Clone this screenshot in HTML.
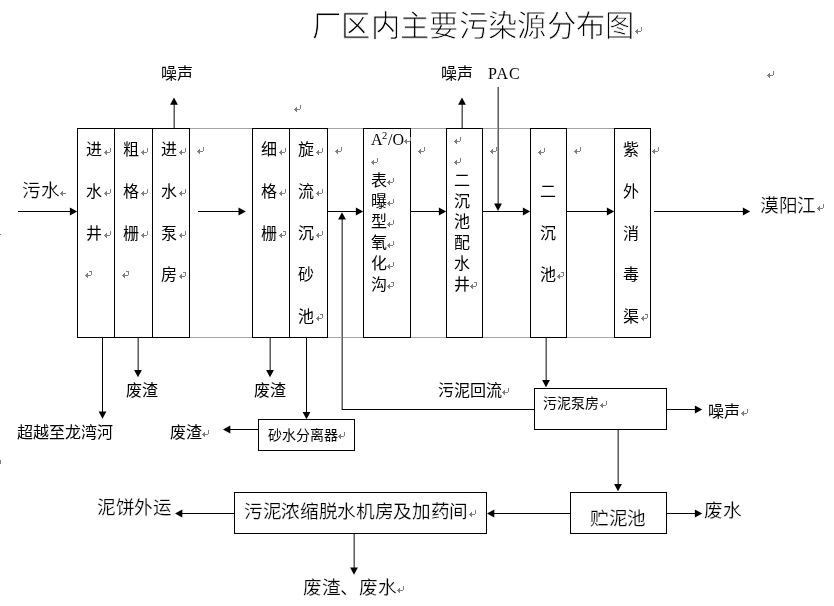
<!DOCTYPE html>
<html lang="zh-CN"><head><meta charset="utf-8"><title>厂区内主要污染源分布图</title>
<style>
html,body{margin:0;padding:0;background:#fff;}
body{width:834px;height:606px;position:relative;overflow:hidden;font-family:"Liberation Serif",serif;color:#000;}
svg.bg{position:absolute;left:0;top:0;}
.t{position:absolute;white-space:nowrap;font-weight:normal;will-change:transform;}
.t span{display:inline-block;width:1em;text-align:center;}
.s{font-family:"Liberation Serif",serif;}
</style></head><body>
<svg class="bg" width="834" height="606" viewBox="0 0 834 606" shape-rendering="crispEdges">
<defs>
<g id="pm" fill="#808080"><rect x="6" y="0" width="1" height="4"/><rect x="0" y="4" width="6" height="1"/><rect x="1" y="3" width="1" height="3"/><rect x="2" y="2" width="1" height="5"/></g>
<g id="pm2" fill="#808080"><rect x="0" y="4" width="6" height="1"/><rect x="1" y="3" width="1" height="3"/><rect x="2" y="2" width="1" height="5"/></g>
</defs>
<rect x="190" y="128" width="424" height="1" fill="#a4a4a4"/>
<rect x="190" y="337" width="424" height="1" fill="#a4a4a4"/>
<rect x="173" y="104" width="1" height="24" fill="#a8a8a8"/>
<rect x="174" y="104" width="1" height="24" fill="#5e5e5e"/>
<rect x="461" y="104" width="1" height="24" fill="#a8a8a8"/>
<rect x="462" y="104" width="1" height="24" fill="#5e5e5e"/>
<rect x="497" y="87" width="1" height="118" fill="#a8a8a8"/>
<rect x="498" y="87" width="1" height="118" fill="#5e5e5e"/>
<rect x="137" y="338" width="1" height="33" fill="#a8a8a8"/>
<rect x="138" y="338" width="1" height="33" fill="#5e5e5e"/>
<rect x="269" y="338" width="1" height="33" fill="#a8a8a8"/>
<rect x="270" y="338" width="1" height="33" fill="#5e5e5e"/>
<rect x="341" y="219" width="1" height="191" fill="#a8a8a8"/>
<rect x="342" y="219" width="1" height="191" fill="#5e5e5e"/>
<rect x="545" y="338" width="1" height="43" fill="#a8a8a8"/>
<rect x="546" y="338" width="1" height="43" fill="#5e5e5e"/>
<rect x="617" y="430" width="1" height="55" fill="#a8a8a8"/>
<rect x="618" y="430" width="1" height="55" fill="#5e5e5e"/>
<rect x="353" y="534" width="1" height="35" fill="#a8a8a8"/>
<rect x="354" y="534" width="1" height="35" fill="#5e5e5e"/>
<rect x="77.5" y="128.5" width="112" height="209" fill="#fff" stroke="#000" stroke-width="1"/>
<rect x="252.5" y="128.5" width="75" height="209" fill="#fff" stroke="#000" stroke-width="1"/>
<rect x="363.5" y="128.5" width="47" height="209" fill="#fff" stroke="#000" stroke-width="1"/>
<rect x="446.5" y="128.5" width="36" height="209" fill="#fff" stroke="#000" stroke-width="1"/>
<rect x="530.5" y="128.5" width="36" height="209" fill="#fff" stroke="#000" stroke-width="1"/>
<rect x="614.5" y="128.5" width="36" height="209" fill="#fff" stroke="#000" stroke-width="1"/>
<rect x="258.5" y="419.5" width="96" height="31" fill="#fff" stroke="#000" stroke-width="1"/>
<rect x="534.5" y="388.5" width="132" height="41" fill="#fff" stroke="#000" stroke-width="1"/>
<rect x="570.5" y="492.5" width="96" height="41" fill="#fff" stroke="#000" stroke-width="1"/>
<rect x="234.5" y="492.5" width="252" height="41" fill="#fff" stroke="#000" stroke-width="1"/>
<rect x="114" y="128" width="1" height="210" fill="#000"/>
<rect x="152" y="128" width="1" height="210" fill="#000"/>
<rect x="289" y="128" width="1" height="210" fill="#000"/>
<rect x="18" y="211" width="54" height="1" fill="#000"/>
<rect x="198" y="211" width="43" height="1" fill="#000"/>
<rect x="328" y="211" width="30" height="1" fill="#000"/>
<rect x="411" y="211" width="30" height="1" fill="#000"/>
<rect x="483" y="211" width="42" height="1" fill="#000"/>
<rect x="567" y="211" width="42" height="1" fill="#000"/>
<rect x="654" y="211" width="91" height="1" fill="#000"/>
<rect x="102" y="338" width="1" height="74" fill="#000"/>
<rect x="306" y="338" width="1" height="75" fill="#000"/>
<rect x="229" y="429" width="29" height="1" fill="#000"/>
<rect x="342" y="409" width="192" height="1" fill="#000"/>
<rect x="667" y="409" width="30" height="1" fill="#000"/>
<rect x="667" y="513" width="30" height="1" fill="#000"/>
<rect x="493" y="513" width="77" height="1" fill="#000"/>
<rect x="181" y="513" width="53" height="1" fill="#000"/>
<polygon points="77.20,211.50 69.90,207.60 69.90,215.40" fill="#000" shape-rendering="geometricPrecision"/>
<polygon points="245.80,211.50 238.50,207.60 238.50,215.40" fill="#000" shape-rendering="geometricPrecision"/>
<polygon points="363.20,211.50 355.90,207.60 355.90,215.40" fill="#000" shape-rendering="geometricPrecision"/>
<polygon points="446.20,211.50 438.90,207.60 438.90,215.40" fill="#000" shape-rendering="geometricPrecision"/>
<polygon points="530.20,211.50 522.90,207.60 522.90,215.40" fill="#000" shape-rendering="geometricPrecision"/>
<polygon points="614.20,211.50 606.90,207.60 606.90,215.40" fill="#000" shape-rendering="geometricPrecision"/>
<polygon points="750.20,211.50 742.90,207.60 742.90,215.40" fill="#000" shape-rendering="geometricPrecision"/>
<polygon points="174.00,97.50 170.10,104.80 177.90,104.80" fill="#000" shape-rendering="geometricPrecision"/>
<polygon points="462.00,97.50 458.10,104.80 465.90,104.80" fill="#000" shape-rendering="geometricPrecision"/>
<polygon points="498.00,210.90 494.10,203.60 501.90,203.60" fill="#000" shape-rendering="geometricPrecision"/>
<polygon points="102.50,418.80 98.60,411.50 106.40,411.50" fill="#000" shape-rendering="geometricPrecision"/>
<polygon points="138.00,377.30 134.10,370.00 141.90,370.00" fill="#000" shape-rendering="geometricPrecision"/>
<polygon points="270.00,377.30 266.10,370.00 273.90,370.00" fill="#000" shape-rendering="geometricPrecision"/>
<polygon points="306.50,419.20 302.60,411.90 310.40,411.90" fill="#000" shape-rendering="geometricPrecision"/>
<polygon points="223.00,429.50 230.30,425.60 230.30,433.40" fill="#000" shape-rendering="geometricPrecision"/>
<polygon points="342.00,212.30 338.10,219.60 345.90,219.60" fill="#000" shape-rendering="geometricPrecision"/>
<polygon points="546.00,387.30 542.10,380.00 549.90,380.00" fill="#000" shape-rendering="geometricPrecision"/>
<polygon points="702.20,409.50 694.90,405.60 694.90,413.40" fill="#000" shape-rendering="geometricPrecision"/>
<polygon points="618.00,491.30 614.10,484.00 621.90,484.00" fill="#000" shape-rendering="geometricPrecision"/>
<polygon points="702.20,513.50 694.90,509.60 694.90,517.40" fill="#000" shape-rendering="geometricPrecision"/>
<polygon points="487.00,513.50 494.30,509.60 494.30,517.40" fill="#000" shape-rendering="geometricPrecision"/>
<polygon points="175.00,513.50 182.30,509.60 182.30,517.40" fill="#000" shape-rendering="geometricPrecision"/>
<polygon points="354.00,574.80 350.10,567.50 357.90,567.50" fill="#000" shape-rendering="geometricPrecision"/>
<use href="#pm" x="635" y="27"/>
<use href="#pm" x="767" y="71"/>
<use href="#pm" x="294" y="105"/>
<use href="#pm" x="104" y="148"/>
<use href="#pm" x="104" y="189"/>
<use href="#pm" x="104" y="231"/>
<use href="#pm" x="85" y="271"/>
<rect x="89" y="271" width="2" height="1" fill="#808080"/>
<use href="#pm" x="141" y="148"/>
<use href="#pm" x="141" y="189"/>
<use href="#pm" x="141" y="231"/>
<use href="#pm" x="122" y="271"/>
<rect x="126" y="271" width="2" height="1" fill="#808080"/>
<use href="#pm" x="179" y="148"/>
<use href="#pm" x="179" y="189"/>
<use href="#pm" x="179" y="231"/>
<use href="#pm" x="179" y="272"/>
<rect x="183" y="272" width="2" height="1" fill="#808080"/>
<use href="#pm" x="197" y="147"/>
<use href="#pm" x="279" y="148"/>
<use href="#pm" x="279" y="189"/>
<use href="#pm" x="279" y="231"/>
<rect x="283" y="231" width="2" height="1" fill="#808080"/>
<use href="#pm" x="316" y="148"/>
<use href="#pm" x="316" y="189"/>
<use href="#pm" x="316" y="231"/>
<use href="#pm" x="316" y="314"/>
<rect x="320" y="314" width="2" height="1" fill="#808080"/>
<use href="#pm" x="335" y="147"/>
<use href="#pm" x="404" y="137"/>
<use href="#pm" x="371" y="158"/>
<use href="#pm" x="387" y="178"/>
<use href="#pm" x="387" y="199"/>
<use href="#pm" x="387" y="220"/>
<use href="#pm" x="387" y="241"/>
<use href="#pm" x="387" y="262"/>
<use href="#pm" x="387" y="282"/>
<rect x="391" y="282" width="2" height="1" fill="#808080"/>
<use href="#pm" x="418" y="147"/>
<use href="#pm" x="454" y="137"/>
<use href="#pm" x="454" y="158"/>
<use href="#pm" x="470" y="282"/>
<rect x="474" y="282" width="2" height="1" fill="#808080"/>
<use href="#pm" x="490" y="147"/>
<use href="#pm" x="538" y="148"/>
<use href="#pm" x="557" y="272"/>
<rect x="561" y="272" width="2" height="1" fill="#808080"/>
<use href="#pm" x="574" y="147"/>
<use href="#pm" x="652" y="147"/>
<use href="#pm" x="641" y="314"/>
<rect x="645" y="314" width="2" height="1" fill="#808080"/>
<use href="#pm" x="817" y="204"/>
<use href="#pm" x="202" y="430"/>
<use href="#pm" x="338" y="432"/>
<use href="#pm" x="502" y="388"/>
<use href="#pm" x="600" y="401"/>
<use href="#pm" x="741" y="409"/>
<use href="#pm" x="469" y="510"/>
<use href="#pm" x="397" y="586"/>
<use href="#pm2" x="60" y="189"/>
<rect x="0" y="234" width="1" height="1" fill="#808080"/>
<rect x="0" y="460" width="1" height="4" fill="#808080"/>
</svg>
<div class="t" style="left:312.19px;top:12.09px;font-size:29.33px;line-height:29.33px;-webkit-text-stroke:0.8px #fff;"><span>厂</span><span>区</span><span>内</span><span>主</span><span>要</span><span>污</span><span>染</span><span>源</span><span>分</span><span>布</span><span>图</span></div>
<div class="t" style="left:161.35px;top:66.25px;font-size:16px;line-height:16px;"><span>噪</span><span>声</span></div>
<div class="t" style="left:441.10px;top:65.70px;font-size:16px;line-height:16px;"><span>噪</span><span>声</span></div>
<div class="t" style="left:21.88px;top:182.16px;font-size:18.67px;line-height:18.67px;-webkit-text-stroke:0.2px #fff;"><span>污</span><span>水</span></div>
<div class="t" style="left:760.29px;top:197.06px;font-size:18.67px;line-height:18.67px;-webkit-text-stroke:0.2px #fff;"><span>漠</span><span>阳</span><span>江</span></div>
<div class="t" style="left:85.85px;top:142.40px;font-size:16px;line-height:16px;"><span>进</span></div>
<div class="t" style="left:85.85px;top:184.00px;font-size:16px;line-height:16px;"><span>水</span></div>
<div class="t" style="left:85.85px;top:225.60px;font-size:16px;line-height:16px;"><span>井</span></div>
<div class="t" style="left:123.10px;top:142.40px;font-size:16px;line-height:16px;"><span>粗</span></div>
<div class="t" style="left:123.10px;top:184.00px;font-size:16px;line-height:16px;"><span>格</span></div>
<div class="t" style="left:123.10px;top:225.60px;font-size:16px;line-height:16px;"><span>栅</span></div>
<div class="t" style="left:161.00px;top:142.40px;font-size:16px;line-height:16px;"><span>进</span></div>
<div class="t" style="left:161.00px;top:184.00px;font-size:16px;line-height:16px;"><span>水</span></div>
<div class="t" style="left:161.00px;top:225.60px;font-size:16px;line-height:16px;"><span>泵</span></div>
<div class="t" style="left:161.00px;top:267.20px;font-size:16px;line-height:16px;"><span>房</span></div>
<div class="t" style="left:260.70px;top:142.40px;font-size:16px;line-height:16px;"><span>细</span></div>
<div class="t" style="left:260.70px;top:184.00px;font-size:16px;line-height:16px;"><span>格</span></div>
<div class="t" style="left:260.70px;top:225.60px;font-size:16px;line-height:16px;"><span>栅</span></div>
<div class="t" style="left:298.10px;top:142.40px;font-size:16px;line-height:16px;"><span>旋</span></div>
<div class="t" style="left:298.10px;top:184.00px;font-size:16px;line-height:16px;"><span>流</span></div>
<div class="t" style="left:298.10px;top:225.60px;font-size:16px;line-height:16px;"><span>沉</span></div>
<div class="t" style="left:298.10px;top:267.20px;font-size:16px;line-height:16px;"><span>砂</span></div>
<div class="t" style="left:298.10px;top:308.80px;font-size:16px;line-height:16px;"><span>池</span></div>
<div class="t" style="left:370.50px;top:172.80px;font-size:16px;line-height:16px;"><span>表</span></div>
<div class="t" style="left:370.50px;top:193.60px;font-size:16px;line-height:16px;"><span>曝</span></div>
<div class="t" style="left:370.50px;top:214.40px;font-size:16px;line-height:16px;"><span>型</span></div>
<div class="t" style="left:370.50px;top:235.20px;font-size:16px;line-height:16px;"><span>氧</span></div>
<div class="t" style="left:370.50px;top:256.00px;font-size:16px;line-height:16px;"><span>化</span></div>
<div class="t" style="left:370.50px;top:276.80px;font-size:16px;line-height:16px;"><span>沟</span></div>
<div class="t" style="left:453.50px;top:172.80px;font-size:16px;line-height:16px;"><span>二</span></div>
<div class="t" style="left:453.50px;top:193.60px;font-size:16px;line-height:16px;"><span>沉</span></div>
<div class="t" style="left:453.50px;top:214.40px;font-size:16px;line-height:16px;"><span>池</span></div>
<div class="t" style="left:453.50px;top:235.20px;font-size:16px;line-height:16px;"><span>配</span></div>
<div class="t" style="left:453.50px;top:256.00px;font-size:16px;line-height:16px;"><span>水</span></div>
<div class="t" style="left:453.50px;top:276.80px;font-size:16px;line-height:16px;"><span>井</span></div>
<div class="t" style="left:540.00px;top:184.00px;font-size:16px;line-height:16px;"><span>二</span></div>
<div class="t" style="left:540.00px;top:225.60px;font-size:16px;line-height:16px;"><span>沉</span></div>
<div class="t" style="left:540.00px;top:267.20px;font-size:16px;line-height:16px;"><span>池</span></div>
<div class="t" style="left:623.30px;top:142.40px;font-size:16px;line-height:16px;"><span>紫</span></div>
<div class="t" style="left:623.30px;top:184.00px;font-size:16px;line-height:16px;"><span>外</span></div>
<div class="t" style="left:623.30px;top:225.60px;font-size:16px;line-height:16px;"><span>消</span></div>
<div class="t" style="left:623.30px;top:267.20px;font-size:16px;line-height:16px;"><span>毒</span></div>
<div class="t" style="left:623.30px;top:308.80px;font-size:16px;line-height:16px;"><span>渠</span></div>
<div class="t" style="left:125.75px;top:383.20px;font-size:16px;line-height:16px;"><span>废</span><span>渣</span></div>
<div class="t" style="left:253.50px;top:383.45px;font-size:16px;line-height:16px;"><span>废</span><span>渣</span></div>
<div class="t" style="left:17.40px;top:425.20px;font-size:16px;line-height:16px;"><span>超</span><span>越</span><span>至</span><span>龙</span><span>湾</span><span>河</span></div>
<div class="t" style="left:169.55px;top:425.15px;font-size:16px;line-height:16px;"><span>废</span><span>渣</span></div>
<div class="t" style="left:267.50px;top:428.75px;font-size:14px;line-height:14px;"><span>砂</span><span>水</span><span>分</span><span>离</span><span>器</span></div>
<div class="t" style="left:437.65px;top:383.20px;font-size:16px;line-height:16px;"><span>污</span><span>泥</span><span>回</span><span>流</span></div>
<div class="t" style="left:543.35px;top:396.75px;font-size:14px;line-height:14px;"><span>污</span><span>泥</span><span>泵</span><span>房</span></div>
<div class="t" style="left:708.20px;top:404.20px;font-size:16px;line-height:16px;"><span>噪</span><span>声</span></div>
<div class="t" style="left:589.50px;top:509.76px;font-size:18.67px;line-height:18.67px;-webkit-text-stroke:0.2px #fff;"><span>贮</span><span>泥</span><span>池</span></div>
<div class="t" style="left:704.48px;top:502.47px;font-size:18.67px;line-height:18.67px;-webkit-text-stroke:0.2px #fff;"><span>废</span><span>水</span></div>
<div class="t" style="left:97.06px;top:499.12px;font-size:18.67px;line-height:18.67px;-webkit-text-stroke:0.2px #fff;"><span>泥</span><span>饼</span><span>外</span><span>运</span></div>
<div class="t" style="left:244.23px;top:503.12px;font-size:18.67px;line-height:18.67px;-webkit-text-stroke:0.2px #fff;"><span>污</span><span>泥</span><span>浓</span><span>缩</span><span>脱</span><span>水</span><span>机</span><span>房</span><span>及</span><span>加</span><span>药</span><span>间</span></div>
<div class="t" style="left:303.32px;top:579.37px;font-size:18.67px;line-height:18.67px;-webkit-text-stroke:0.2px #fff;"><span>废</span><span>渣</span><span>、</span><span>废</span><span>水</span></div>
<div class="t s" style="left:488px;top:66.3px;font-size:16px;line-height:16px;letter-spacing:1px">PAC</div>
<div class="t s" style="left:370.5px;top:132px;font-size:16px;line-height:16px">A</div>
<div class="t s" style="left:381.6px;top:130.8px;font-size:10.5px;line-height:10.5px">2</div>
<div class="t s" style="left:387.6px;top:132px;font-size:16px;line-height:16px">/O</div>
</body></html>
